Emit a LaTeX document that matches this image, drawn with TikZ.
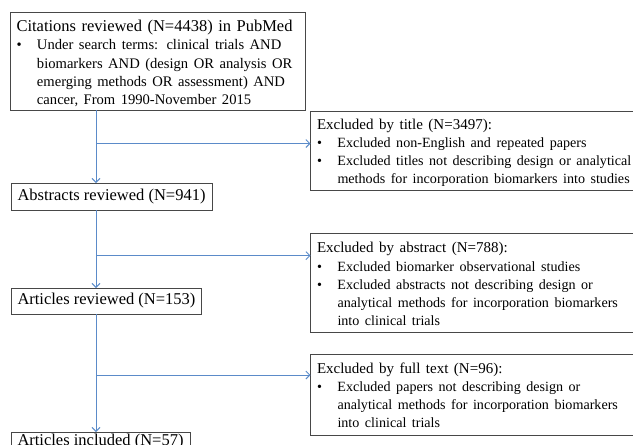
\documentclass[tikz,border=0pt]{standalone}
\usepackage{fontspec}
\setmainfont{Liberation Serif}
\usetikzlibrary{arrows.meta, positioning}

\definecolor{flowblue}{HTML}{5B8BC9}
\definecolor{boxgray}{HTML}{474747}
\newcommand{\sm}{\fontsize{14.6}{18.25}\selectfont}
\newcommand{\rsm}{\fontsize{14.1}{18.1}\selectfont}
\newcommand{\md}{\fontsize{15}{18.1}\selectfont}
\newcommand{\bul}{\makebox[20.5pt][l]{\textbullet}}
\newcommand{\hang}{\hspace*{20.5pt}}
\newcommand{\up}[1]{\rule{0pt}{#1}}
\newcommand{\dn}[1]{\rule[-#1]{0pt}{#1}}

\begin{document}
\begin{tikzpicture}[
  box/.style={draw=boxgray, line width=0.9pt, outer sep=0pt, inner xsep=6.5pt, inner ysep=0pt, align=left, font=\fontsize{16.5}{18.25}\selectfont},
  flow/.style={-{Straight Barb[length=4pt, width=8pt]}, flowblue, line width=0.9pt},
  node distance=10pt
]
\useasboundingbox (0,0) rectangle (633pt,-445pt);

% left column
\node[box, anchor=north west, text width=282pt] (cit) at (10pt,-12pt)
  {\up{19.5pt}Citations reviewed (N=4438) in PubMed\\
   \sm\bul Under search terms: clinical trials AND\\
   \hang biomarkers AND (design OR analysis OR\\
   \hang emerging methods OR assessment) AND\\
   \hang cancer, From 1990-November 2015\dn{5.5pt}};
\node[box, below right=73pt and 1pt of cit.south west, minimum height=27pt] (abs) {Abstracts reviewed (N=941)};
\node[box, below right=78pt and 0pt of abs.south west, minimum height=26pt] (art) {Articles reviewed (N=153)};
\node[box, below right=118pt and 0pt of art.south west] (inc) {\up{13pt}Articles included (N=57)\dn{14pt}};

% right column
\node[box, below right=1pt and 5.5pt of cit.south east, text width=340pt] (titleexcl)
  {\md\up{18pt}Excluded by title (N=3497):\\
   \rsm\bul Excluded non-English and repeated papers\\
   \bul Excluded titles not describing design or analytical\\
   \hang methods for incorporation biomarkers into studies\dn{7pt}};
\node[box, below right=43pt and 0pt of titleexcl.south west, text width=340pt] (absexcl)
  {\md\up{19.5pt}Excluded by abstract (N=788):\\
   \rsm\bul Excluded biomarker observational studies\\
   \bul Excluded abstracts not describing design or\\
   \hang analytical methods for incorporation biomarkers\\
   \hang into clinical trials\dn{7pt}};
\node[box, below right=22pt and 0pt of absexcl.south west, text width=340pt] (ftexcl)
  {\md\up{19pt}Excluded by full text (N=96):\\
   \rsm\bul Excluded papers not describing design or\\
   \hang analytical methods for incorporation biomarkers\\
   \hang into clinical trials\dn{7.7pt}};

% connectors
\coordinate (spine) at (96pt,0);
\coordinate (j1) at (96pt,-143.5pt);
\coordinate (j2) at (96pt,-255.7pt);
\coordinate (j3) at (96pt,-375pt);

\draw[flow] (spine |- cit.south) -- (spine |- abs.north);
\draw[flow] (spine |- abs.south) -- (spine |- art.north);
\draw[flow] (spine |- art.south) -- (spine |- inc.north);
\draw[flow] (j1) -- (j1 -| titleexcl.west);
\draw[flow] (j2) -- (j2 -| absexcl.west);
\draw[flow] (j3) -- (j3 -| ftexcl.west);
\end{tikzpicture}
\end{document}
